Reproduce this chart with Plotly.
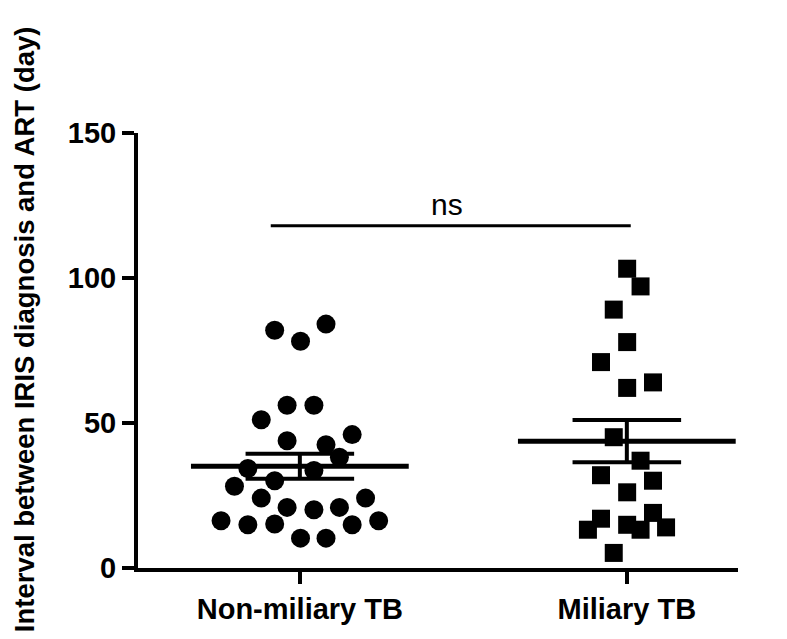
import numpy as np
import plotly.graph_objects as go

categories = ["Non-miliary TB", "Miliary TB"]

non_miliary = [82.0, 78.2, 84.1, 56.1, 56.1, 51.1, 43.9, 42.5, 46.0, 38.2, 34.3, 33.6, 30.1,
               28.2, 24.1, 24.1, 20.9, 20.1, 20.9, 16.3, 14.9, 15.2, 14.9, 16.3, 10.3, 10.3]
non_miliary_jitter = [-0.077, 0.002, 0.080, -0.039, 0.043, -0.118, -0.039, 0.080, 0.160, 0.121,
                      -0.159, 0.043, -0.077, -0.200, -0.118, 0.201, -0.039, 0.043, 0.121, -0.241,
                      -0.159, -0.077, 0.160, 0.241, 0.002, 0.080]

miliary = [103.2, 97.1, 89.1, 77.9, 71.0, 62.1, 64.0, 45.1, 37.0, 32.0, 30.1, 26.1, 19.0,
           17.0, 14.9, 13.2, 13.2, 14.0, 5.2]
miliary_jitter = [0.001, 0.042, -0.040, 0.001, -0.079, 0.001, 0.080, -0.040, 0.042, -0.079,
                  0.080, 0.001, 0.080, -0.079, 0.001, -0.119, 0.042, 0.120, -0.040]

y_ticks = [0, 50, 100, 150]
sig_label = "ns"
sig_y = 118

fig = go.Figure()

groups = [(0, non_miliary, non_miliary_jitter, "circle", 19),
          (1, miliary, miliary_jitter, "square", 18)]

for pos, vals, jit, sym, sz in groups:
    fig.add_trace(go.Scatter(
        x=[pos + j for j in jit], y=vals, mode="markers",
        marker=dict(symbol=sym, size=sz, color="black", line=dict(width=0)),
        showlegend=False, hoverinfo="y"))

for pos, vals, jit, sym, sz in groups:
    arr = np.array(vals)
    m = arr.mean()
    sem = arr.std(ddof=1) / np.sqrt(len(arr))
    # mean line
    fig.add_trace(go.Scatter(x=[pos - 0.333, pos + 0.333], y=[m, m], mode="lines",
                             line=dict(color="black", width=5), showlegend=False, hoverinfo="skip"))
    # SEM caps
    for v in (m - sem, m + sem):
        fig.add_trace(go.Scatter(x=[pos - 0.166, pos + 0.166], y=[v, v], mode="lines",
                                 line=dict(color="black", width=4), showlegend=False, hoverinfo="skip"))
    fig.add_trace(go.Scatter(x=[pos, pos], y=[m - sem, m + sem], mode="lines",
                             line=dict(color="black", width=4), showlegend=False, hoverinfo="skip"))

# significance line
fig.add_trace(go.Scatter(x=[-0.089, 1.012], y=[sig_y, sig_y], mode="lines",
                         line=dict(color="black", width=3), showlegend=False, hoverinfo="skip"))
fig.add_annotation(x=0.45, y=125.5, xref="x", yref="y", text=sig_label, showarrow=False,
                   font=dict(family="Liberation Sans", size=30, color="black"),
                   xanchor="center", yanchor="middle")

fig.add_annotation(x=-0.19, y=0.549, xref="paper", yref="paper",
                   text="Interval between IRIS diagnosis and ART (day)", textangle=-90,
                   showarrow=False, xanchor="center", yanchor="middle",
                   font=dict(family="Liberation Sans", size=27.5, color="black", weight="bold"))

fig.update_layout(
    width=787, height=639,
    margin=dict(l=130, r=57, t=125, b=79),
    paper_bgcolor="white", plot_bgcolor="white",
    xaxis=dict(range=[-0.495, 1.340], tickvals=[0, 1], ticktext=categories,
               showline=True, linewidth=4, linecolor="black", ticks="outside",
               ticklen=12, tickwidth=4, tickcolor="black", showgrid=False, zeroline=False,
               tickfont=dict(family="Liberation Sans", size=29, color="black", weight="bold")),
    yaxis=dict(range=[0, 150], tickvals=y_ticks, showline=True, linewidth=4, linecolor="black",
               ticks="outside", ticklen=12, tickwidth=4, tickcolor="black", showgrid=False,
               zeroline=False,
               tickfont=dict(family="Liberation Sans", size=29, color="black", weight="bold")),
)

fig.write_html("out.html")
